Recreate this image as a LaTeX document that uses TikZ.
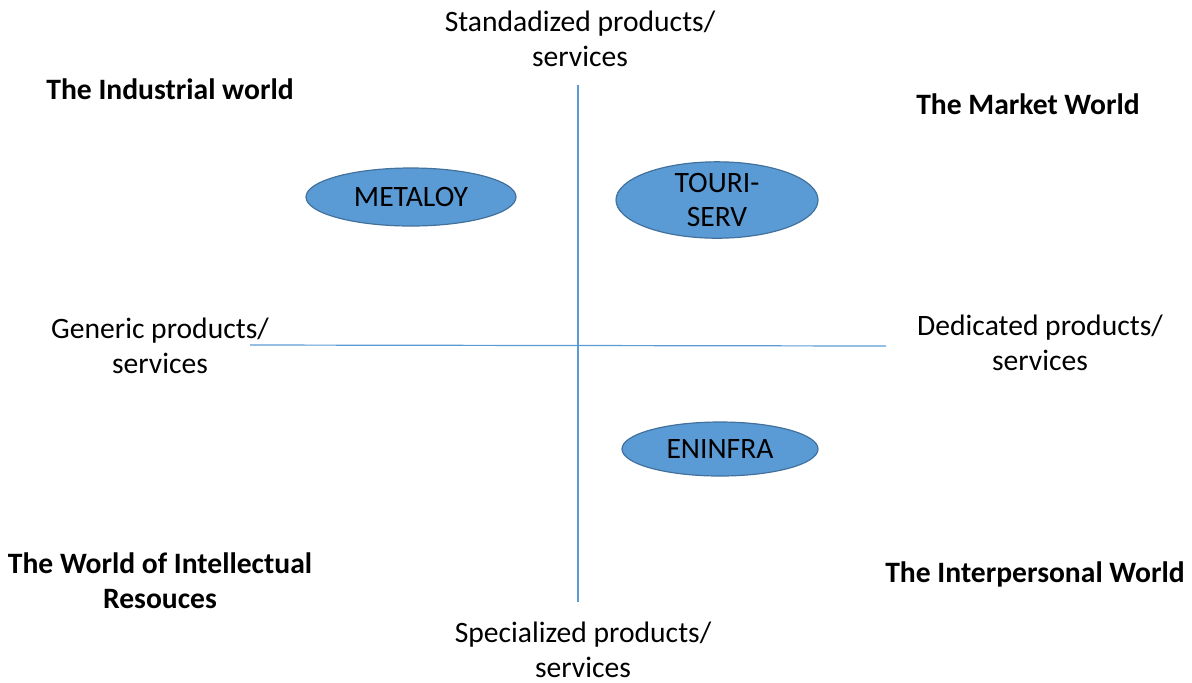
\documentclass[tikz,border=0pt]{standalone}
\usepackage{fontspec}
\setmainfont{Carlito}
\usepackage{xcolor}
\usepackage{tikz}
\usetikzlibrary{positioning, shapes.geometric}
\definecolor{ellfill}{HTML}{5B9BD5}
\definecolor{elldraw}{HTML}{41719C}
\definecolor{axiscol}{HTML}{5B9BD5}

\begin{document}
\begin{tikzpicture}[
          x=0.5pt, y=-0.5pt,
          every node/.style={align=center, font=\fontsize{14.8}{17.3}\selectfont, inner sep=0pt},
          world/.style={font=\fontsize{14.8}{17.3}\selectfont\bfseries},
          firm/.style={ellipse, fill=ellfill, draw=elldraw, line width=0.6pt},
          axis/.style={draw=axiscol, line width=0.6pt}
        ]
          \useasboundingbox (0,0) rectangle (1192,682);

          % Axis ends
          \coordinate (top) at (578,85);
          \coordinate (bottom) at (578,602);
          \coordinate (left) at (250,345);
          \coordinate (right) at (886,346);

          % Axis labels
          \node (standard) at (580,39) {Standadized products/\\services};
          \node (special) at (583,650) {Specialized products/\\services};
          \node (generic) at (160,346) {Generic products/\\services};
          \node (dedicated) at (1040,343) {Dedicated products/\\services};

          % The four worlds
          \node[world] (industrial) at (170,89) {The Industrial world};
          \node[world] (market) at (1028,104) {The Market World};
          \node[world] (intellectual) at (160,581) {The World of Intellectual\\Resouces};
          \node[world] (interpersonal) at (1035,574) {The Interpersonal World};

          % Firms
          \node[firm, minimum width=105pt, minimum height=29pt] (metaloy) at (411,197) {METALOY};
          \node[firm, minimum width=101pt, minimum height=35pt] (touriserv) at (717,200) {TOURI-\\SERV};
          \node[firm, minimum width=98pt, minimum height=27pt] (eninfra) at (720,449) {ENINFRA};

          % Axes
          \draw[axis] (top) -- (bottom);
          \draw[axis] (left) -- (right);
        \end{tikzpicture}
\end{document}
